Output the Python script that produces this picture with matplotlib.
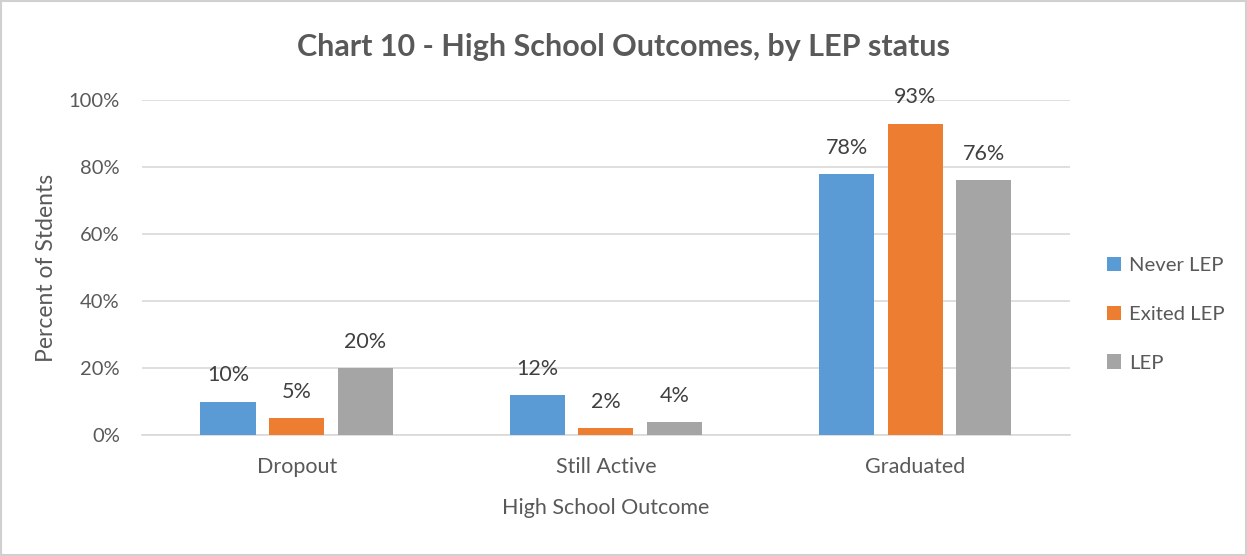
import matplotlib
matplotlib.use("Agg")
import matplotlib.pyplot as plt
import numpy as np
from matplotlib.patches import Rectangle

categories = ["Dropout", "Still Active", "Graduated"]
series_names = ["Never LEP", "Exited LEP", "LEP"]
never_lep = [10, 12, 78]
exited_lep = [5, 2, 93]
lep = [20, 4, 76]
values = [never_lep, exited_lep, lep]
colors = ["#5B9BD5", "#ED7D31", "#A5A5A5"]
yticks = [0, 20, 40, 60, 80, 100]

plt.rcParams['font.family'] = ['Lato', 'DejaVu Sans']
txt = "#595959"

fig = plt.figure(figsize=(12.47, 5.56), dpi=100)
fig.patches.append(Rectangle((0.001, 0.001), 0.998, 0.997, transform=fig.transFigure,
                             fill=False, edgecolor="#D0D0D0", linewidth=1.5))
ax = fig.add_axes([0.1139, 0.2176, 0.744, 0.6024])

x = np.arange(len(categories))
width = 0.178
step = 0.222
for i, (name, vals, c) in enumerate(zip(series_names, values, colors)):
    pos = x + (i - 1) * step
    ax.bar(pos, vals, width=width, color=c, label=name, zorder=3)
    for xp, v in zip(pos, vals):
        ax.text(xp, v + 4.8, f"{v}%", ha="center", va="bottom", fontsize=15.5, color="#404040")

ax.set_xlim(-0.5, 2.5)
ax.set_ylim(0, 100)
ax.set_yticks(yticks)
ax.set_yticklabels([f"{t}%" for t in yticks], fontsize=14.5, color=txt)
ax.set_xticks(x)
ax.set_xticklabels(categories, fontsize=15.5, color=txt)
ax.tick_params(axis="both", length=0)
ax.tick_params(axis="y", pad=16)
ax.tick_params(axis="x", pad=16)
ax.grid(axis="y", color="#D9D9D9", linewidth=1.2, zorder=0)
for s in ["top", "right", "left"]:
    ax.spines[s].set_visible(False)
ax.spines["bottom"].set_color("#D9D9D9")
ax.spines["bottom"].set_linewidth(1.2)

ax.set_xlabel("High School Outcome", fontsize=15.5, color=txt, labelpad=15)
ax.set_ylabel("Percent of Stdents", fontsize=16.5, color=txt, labelpad=8)

fig.text(0.5, 0.915, "Chart 10 - High School Outcomes, by LEP status", ha="center", va="center",
         fontsize=22, fontweight="bold", color="#595959")

leg = ax.legend(loc="center left", bbox_to_anchor=(1.02, 0.36), frameon=False, fontsize=14.6,
                handlelength=0.7, handleheight=0.7, labelspacing=1.55, handletextpad=0.4)
for t in leg.get_texts():
    t.set_color(txt)

fig.savefig("out.png", dpi=100)
